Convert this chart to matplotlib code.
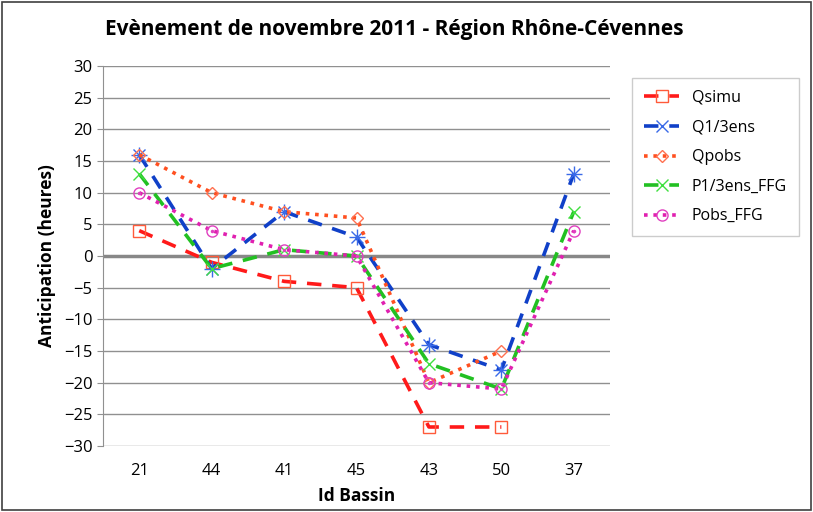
import numpy as np
import matplotlib.pyplot as plt

plt.rcParams['font.family'] = ['Open Sans', 'DejaVu Sans']

# Bassins (x categories) and anticipation values in hours
bassins = ["21", "44", "41", "45", "43", "50", "37"]
qsimu = [4, -1, -4, -5, -27, -27, np.nan]
q13ens = [16, -2, 7, 3, -14, -18, 13]
qpobs = [16, 10, 7, 6, -20, -15, np.nan]
p13ens_ffg = [13, -2, 1, 0, -17, -21, 7]
pobs_ffg = [10, 4, 1, 0, -20, -21, 4]

series = [
    ("Qsimu", qsimu, "#ff1a1a", (0, (4, 3)), "s", "#ff5a3a"),
    ("Q1/3ens", q13ens, "#1040c8", (0, (4, 3)), "x", "#3a6ae8"),
    ("Qpobs", qpobs, "#ff5020", (0, (1, 1.6)), "D", "#ff7050"),
    ("P1/3ens_FFG", p13ens_ffg, "#22c022", (0, (4, 3)), "x", "#40e040"),
    ("Pobs_FFG", pobs_ffg, "#e020b0", (0, (1, 1.6)), "o", "#e040c0"),
]

fig = plt.figure(figsize=(8.13, 5.12), dpi=100)
ax = fig.add_axes([103 / 813, 66 / 512, 507 / 813, 380 / 512])

x = np.arange(len(bassins))
for name, vals, col, ls, mk, mcol in series:
    ax.plot(x, vals, color=col, linestyle=ls, linewidth=2.6, label=name,
            marker=mk, markersize=8 if mk != "D" else 6.5,
            markerfacecolor="none", markeredgecolor=mcol, markeredgewidth=1.0)
    if name == "Q1/3ens":
        ax.plot(x, vals, linestyle="none", marker="+", markersize=11,
                markeredgecolor=mcol, markeredgewidth=1.0)
    if name == "Pobs_FFG":
        ax.plot(x, vals, linestyle="none", marker=".", markersize=3,
                color=mcol)

ax.set_ylim(-30, 30)
ax.set_yticks(np.arange(-30, 31, 5))
ax.set_xlim(-0.5, len(bassins) - 0.5)
ax.set_xticks(x)
ax.set_xticklabels(bassins)
ax.grid(axis="y", color="#909090", linewidth=1.0)
ax.axhline(0, color="#888888", linewidth=2.5, zorder=1)
ax.set_axisbelow(True)
for s in ["top", "right", "bottom"]:
    ax.spines[s].set_visible(False)
ax.spines["left"].set_color("#909090")
ax.tick_params(axis="y", length=4, color="#909090", labelsize=12)
ax.tick_params(axis="x", length=0, labelsize=12, pad=12)

ax.set_xlabel("Id Bassin", fontsize=12.5, fontweight="bold", labelpad=6)
ax.set_ylabel("Anticipation (heures)", fontsize=12.5, fontweight="bold", labelpad=6)
fig.text(105 / 813, 1 - 30 / 512, "Evènement de novembre 2011 - Région Rhône-Cévennes",
         fontsize=15, fontweight="bold", va="center", ha="left")

leg = fig.legend(loc="upper left", bbox_to_anchor=(632 / 813, 1 - 78 / 512),
                 borderaxespad=0, fontsize=11.5, frameon=True, fancybox=False,
                 handlelength=2.2, handletextpad=0.8, labelspacing=0.85,
                 borderpad=0.75, edgecolor="#c0c0c0")
leg.get_frame().set_linewidth(1.0)

# figure border
fig.patches.append(plt.Rectangle((0.002, 0.003), 0.995, 0.993, transform=fig.transFigure,
                                 fill=False, edgecolor="#404040", linewidth=1.2))

fig.savefig("out.png", dpi=100)
